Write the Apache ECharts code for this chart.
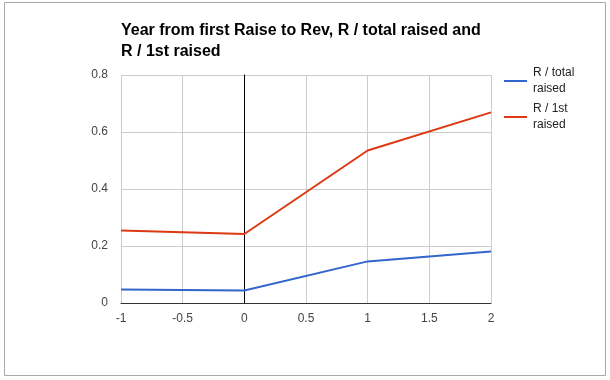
<!DOCTYPE html>
<html>
<head>
<meta charset="utf-8">
<script src="https://cdn.jsdelivr.net/npm/echarts@6/dist/echarts.min.js"></script>
<style>html,body{margin:0;padding:0;background:#fff}#c{width:610px;height:380px}</style>
</head>
<body>
<div id="c"></div>
<script>
var xValues = [-1, 0, 1, 2];
var totalRaised = [0.047, 0.044, 0.146, 0.181];
var firstRaised = [0.254, 0.242, 0.535, 0.669];
var seriesNames = ['R / total raised', 'R / 1st raised'];
var legendLabels = ['R / total\nraised', 'R / 1st\nraised'];
var titleText = 'Year from first Raise to Rev, R / total raised and\nR / 1st raised';

var font = 'Arial, "Liberation Sans", sans-serif';
function pairs(xs, ys) { return xs.map(function (x, i) { return [x, ys[i]]; }); }

var chart = echarts.init(document.getElementById('c'), null, {renderer: 'canvas'});
chart.setOption({
  animation: false,
  backgroundColor: '#fff',
  title: {
    text: titleText,
    left: 121, top: 20, padding: 0,
    textStyle: {fontFamily: font, fontSize: 16, fontWeight: 'bold', color: '#000', lineHeight: 21}
  },
  legend: {
    orient: 'vertical',
    left: 504, top: 57, padding: 0,
    itemWidth: 23, itemHeight: 2, itemGap: -12,
    icon: 'rect',
    formatter: function (name) { return legendLabels[seriesNames.indexOf(name)]; },
    textStyle: {fontFamily: font, fontSize: 12, color: '#222', lineHeight: 16, padding: [16, 0, 0, 1]},
    data: seriesNames
  },
  grid: {left: 121, right: 119, top: 75, bottom: 77, containLabel: false},
  xAxis: {
    type: 'value', min: -1, max: 2, interval: 0.5,
    axisLine: {show: true, onZero: true, lineStyle: {color: '#333', width: 1}},
    axisTick: {show: false},
    axisLabel: {fontFamily: font, fontSize: 12, color: '#444', margin: 10, showMinLabel: true, showMaxLabel: true},
    splitLine: {show: true, lineStyle: {color: '#ccc', width: 1}}
  },
  yAxis: {
    type: 'value', min: 0, max: 0.8, interval: 0.2,
    axisLine: {show: true, onZero: true, lineStyle: {color: '#000', width: 1}},
    axisTick: {show: false},
    axisLabel: {fontFamily: font, fontSize: 12, color: '#444', margin: 13,
      formatter: function (v) { return String(Math.round(v * 10) / 10); }},
    splitLine: {show: true, lineStyle: {color: '#ccc', width: 1}}
  },
  series: [
    {name: seriesNames[0], type: 'line', data: pairs(xValues, totalRaised), showSymbol: false,
     lineStyle: {color: '#3366cc', width: 2}, itemStyle: {color: '#3366cc'}},
    {name: seriesNames[1], type: 'line', data: pairs(xValues, firstRaised), showSymbol: false,
     lineStyle: {color: '#dc3912', width: 2}, itemStyle: {color: '#dc3912'}}
  ],
  graphic: [{
    type: 'rect', shape: {x: 4.5, y: 2.5, width: 601, height: 373},
    style: {fill: null, stroke: '#a8a8a8', lineWidth: 1}, silent: true, z: 100
  }]
});
</script>
</body>
</html>
